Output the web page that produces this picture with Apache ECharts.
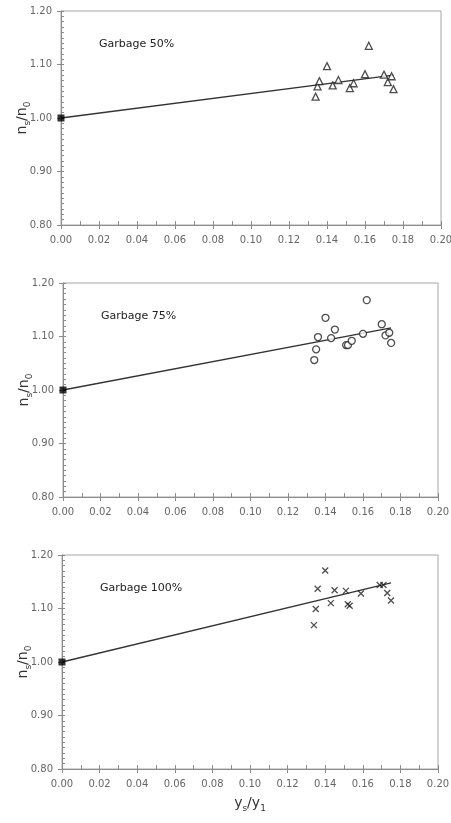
<!DOCTYPE html>
<html>
<head>
<meta charset="utf-8">
<script src="https://cdn.jsdelivr.net/npm/echarts@6/dist/echarts.min.js"></script>
<style>
  html, body { margin: 0; padding: 0; background: #fff; }
  #chartContainer { width: 451px; height: 823px; }
</style>
</head>
<body>
<div id="chartContainer"></div>
<script>
const labels = ['Garbage 50%', 'Garbage 75%', 'Garbage 100%'];

const xs50 = [0.134, 0.135, 0.136, 0.140, 0.143, 0.146, 0.152, 0.154, 0.160, 0.162, 0.170, 0.172, 0.174, 0.175];
const ys50 = [1.040, 1.059, 1.069, 1.097, 1.061, 1.071, 1.056, 1.065, 1.082, 1.135, 1.081, 1.067, 1.078, 1.054];

const xs75 = [0.134, 0.135, 0.136, 0.140, 0.143, 0.145, 0.151, 0.152, 0.154, 0.160, 0.162, 0.170, 0.172, 0.174, 0.175];
const ys75 = [1.056, 1.076, 1.099, 1.135, 1.097, 1.113, 1.084, 1.084, 1.092, 1.105, 1.168, 1.123, 1.102, 1.107, 1.088];

const xs100 = [0.134, 0.135, 0.136, 0.140, 0.143, 0.145, 0.151, 0.152, 0.153, 0.159, 0.169, 0.171, 0.173, 0.175];
const ys100 = [1.069, 1.099, 1.137, 1.171, 1.110, 1.134, 1.133, 1.108, 1.105, 1.128, 1.144, 1.144, 1.129, 1.115];

// fitted lines (start at the reference point 0 / 1.00)
const fitX = [0, 0.175];
const fit50 = [1.0, 1.080];
const fit75 = [1.0, 1.116];
const fit100 = [1.0, 1.148];

const originX = [0];
const originY = [1.0];

const FONT = 'DejaVu Sans';
const grids = [
    { left: 61, right: 10, top: 11, height: 214 },
    { left: 63, right: 13, top: 283, height: 214 },
    { left: 62, right: 13, top: 555, height: 214 }
];

const pairs = (xs, ys) => xs.map((x, i) => [x, ys[i]]);

const nameRich = {
    a: { fontFamily: FONT, fontSize: 14, color: '#333', verticalAlign: 'middle', lineHeight: 20 },
    s: { fontFamily: FONT, fontSize: 9, color: '#333', verticalAlign: 'bottom', lineHeight: 9 }
};

const xAxes = [];
const yAxes = [];
grids.forEach((g, i) => {
    // main axes: labels + inside ticks (major and minor)
    xAxes.push({
        gridIndex: i, type: 'value', min: 0, max: 0.2, interval: 0.02,
        axisLine: { show: true, lineStyle: { color: '#8c8c8c', width: 1 } },
        axisTick: { show: true, inside: true, length: 4, lineStyle: { color: '#8c8c8c' } },
        minorTick: { show: true, splitNumber: 2, length: 4, lineStyle: { color: '#8c8c8c' } },
        splitLine: { show: false },
        axisLabel: { color: '#666', fontFamily: FONT, fontSize: 10, margin: 10,
            formatter: v => v.toFixed(2) },
        name: i === 2 ? '{a|y}{s|s}{a|/y}{s|1}' : '',
        nameLocation: 'middle', nameGap: 24, nameMoveOverlap: false,
        nameTextStyle: { rich: nameRich }
    });
    yAxes.push({
        gridIndex: i, type: 'value', min: 0.8, max: 1.2, interval: 0.1,
        axisLine: { show: true, lineStyle: { color: '#8c8c8c', width: 1 } },
        axisTick: { show: true, inside: true, length: 3, lineStyle: { color: '#8c8c8c' } },
        minorTick: { show: true, splitNumber: 10, length: 3, lineStyle: { color: '#8c8c8c' } },
        splitLine: { show: false },
        axisLabel: { color: '#666', fontFamily: FONT, fontSize: 10, margin: 9,
            formatter: v => v.toFixed(2) },
        name: '{a|n}{s|s}{a|/n}{s|0}',
        nameLocation: 'middle', nameRotate: 90, nameGap: 29, nameMoveOverlap: false,
        nameTextStyle: { rich: nameRich }
    });
});
// extra axes only to draw the outward half of the major ticks
grids.forEach((g, i) => {
    xAxes.push({
        gridIndex: i, type: 'value', min: 0, max: 0.2, interval: 0.02, position: 'bottom',
        axisLine: { show: false }, axisLabel: { show: false }, splitLine: { show: false },
        axisTick: { show: true, inside: false, length: 4, lineStyle: { color: '#8c8c8c' } }
    });
    yAxes.push({
        gridIndex: i, type: 'value', min: 0.8, max: 1.2, interval: 0.1, position: 'left',
        axisLine: { show: false }, axisLabel: { show: false }, splitLine: { show: false },
        axisTick: { show: true, inside: false, length: 4, lineStyle: { color: '#8c8c8c' } }
    });
});

const triangle = 'triangle';
const cross = 'path://M0,0L10,10M10,0L0,10';

function panelSeries(i, xs, ys, fit, symbol, size) {
    return [
        {
            type: 'line', xAxisIndex: i, yAxisIndex: i,
            data: pairs(fitX, fit), showSymbol: false, silent: true,
            lineStyle: { color: '#333', width: 1.3 }, z: 2
        },
        {
            type: 'scatter', xAxisIndex: i, yAxisIndex: i,
            data: pairs(xs, ys), symbol: symbol, symbolSize: size,
            itemStyle: symbol === cross
                ? { color: 'rgba(0,0,0,0)', borderColor: '#222', borderWidth: 1.3 }
                : { color: '#fff', borderColor: '#222', borderWidth: 1.3 },
            z: 3
        },
        {
            type: 'scatter', xAxisIndex: i, yAxisIndex: i,
            data: pairs(originX, originY), symbol: 'rect', symbolSize: 7,
            itemStyle: { color: '#000' }, clip: false, z: 4
        }
    ];
}

const chart = echarts.init(document.getElementById('chartContainer'));
chart.setOption({
    backgroundColor: '#fff',
    animation: false,
    title: [
        { text: labels[0], left: 94, top: 34 },
        { text: labels[1], left: 96, top: 306 },
        { text: labels[2], left: 95, top: 578 }
    ].map(t => Object.assign(t, {
        textStyle: { fontFamily: FONT, fontSize: 11, fontWeight: 'normal', color: '#222' }
    })),
    grid: grids.map(g => Object.assign({
        show: true, borderColor: '#a6a6a6', borderWidth: 1, backgroundColor: 'transparent',
        containLabel: false, outerBoundsMode: 'none'
    }, g)),
    xAxis: xAxes,
    yAxis: yAxes,
    series: [
        ...panelSeries(0, xs50, ys50, fit50, triangle, 7),
        ...panelSeries(1, xs75, ys75, fit75, 'circle', 7),
        ...panelSeries(2, xs100, ys100, fit100, cross, 6)
    ]
});
</script>
</body>
</html>
